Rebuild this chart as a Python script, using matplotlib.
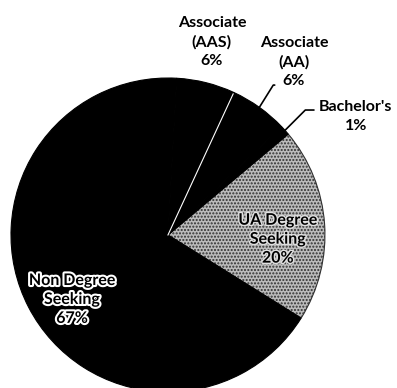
import numpy as np
import matplotlib
matplotlib.use("Agg")
import matplotlib.pyplot as plt
import matplotlib.patheffects as pe

# enrollment share by degree program
labels = ["UA Degree\nSeeking", "Bachelor's", "Associate\n(AA)", "Associate\n(AAS)", "Non Degree\nSeeking"]
shares = [20, 1, 6, 6, 67]

plt.rcParams['font.family'] = ['Lato', 'DejaVu Sans']
plt.rcParams['font.weight'] = 'bold'

fig = plt.figure(figsize=(3.97, 3.88), dpi=100)
ax = fig.add_axes([0, 0, 1, 1])

colors = ['#bcbcbc', 'black', 'black', 'black', 'black']
wedges, _ = ax.pie(shares, colors=colors, startangle=-32, counterclock=True,
                   wedgeprops=dict(linewidth=0.8, edgecolor='black'))
# speckled fill for the UA slice
wedges[0].set_hatch('.....')
wedges[0].set_edgecolor('#303030')

# thin white divider between the two associate slices
a = np.deg2rad(wedges[3].theta1)
ax.plot([0, 0.99 * np.cos(a)], [0, 0.99 * np.sin(a)], color='white', lw=0.8)

ax.set_xlim(-1.070, 1.459)
ax.set_ylim(-0.975, 1.497)
ax.set_aspect('equal', adjustable='datalim')
ax.axis('off')

def mid(w, r=1.0):
    a = np.deg2rad((w.theta1 + w.theta2) / 2)
    return r * np.cos(a), r * np.sin(a)

fs = 11.5
ls = 1.45

# labels inside the pie
ax.text(0.70, -0.03, f"{labels[0]}\n{shares[0]}%", ha='center', va='center',
        fontsize=fs, linespacing=ls, color='black',
        path_effects=[pe.withStroke(linewidth=2, foreground='#e0e0e0')])
ax.text(-0.611, -0.414, f"{labels[4]}\n{shares[4]}%", ha='center', va='center',
        fontsize=fs, linespacing=ls, color='black',
        path_effects=[pe.withStroke(linewidth=3, foreground='white')])

# labels outside the pie
ax.text(0.280, 1.229, f"{labels[3]}\n{shares[3]}%", ha='center', va='center',
        fontsize=fs, linespacing=ls)
ax.text(0.803, 1.102, f"{labels[2]}\n{shares[2]}%", ha='center', va='center',
        fontsize=fs, linespacing=ls)
ax.text(1.197, 0.755, f"{labels[1]}\n{shares[1]}%", ha='center', va='center',
        fontsize=fs, linespacing=ls)

# leader lines
ax.annotate('', xy=mid(wedges[2]), xytext=(0.68, 0.955),
            arrowprops=dict(arrowstyle='-', color='black', lw=1.2, shrinkA=0, shrinkB=0,
                            connectionstyle='angle,angleA=0,angleB=58,rad=0'))
ax.annotate('', xy=mid(wedges[1]), xytext=(0.93, 0.796),
            arrowprops=dict(arrowstyle='-', color='black', lw=1.2, shrinkA=0, shrinkB=0,
                            connectionstyle='angle,angleA=0,angleB=45,rad=0'))

fig.savefig("out.png", dpi=100)
